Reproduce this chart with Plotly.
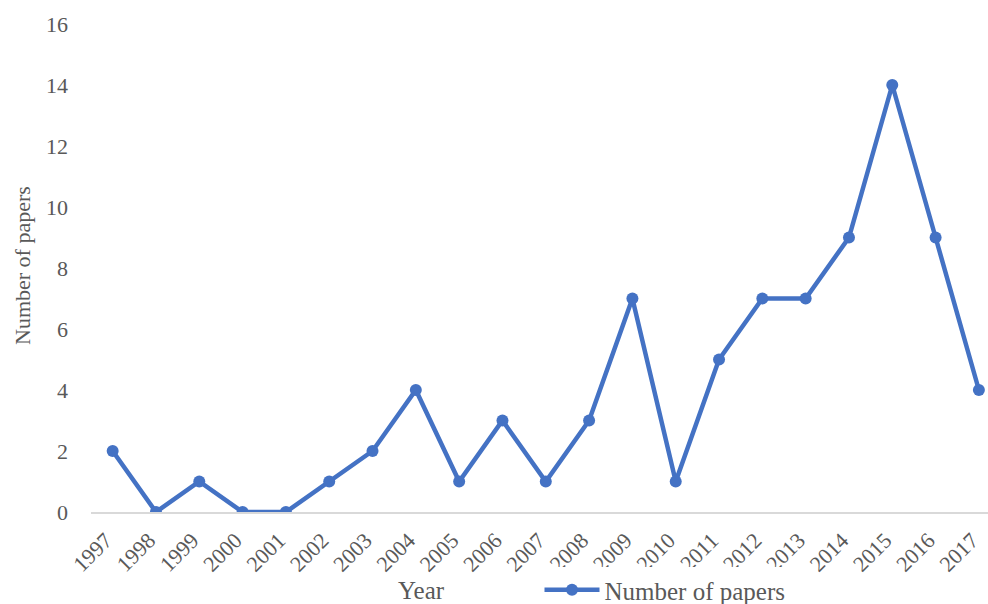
import plotly.graph_objects as go

years = [str(y) for y in range(1997, 2018)]
papers = [2, 0, 1, 0, 0, 1, 2, 4, 1, 3, 1, 3, 7, 1, 5, 7, 7, 9, 14, 9, 4]
y_ticks = [0, 2, 4, 6, 8, 10, 12, 14, 16]

BLUE = "#4472C4"
GREY_TEXT = "#595959"
FONT = "Liberation Serif"

fig = go.Figure()
fig.add_trace(go.Scatter(
    x=years, y=papers, mode="lines+markers", name="Number of papers",
    line=dict(color=BLUE, width=4.5),
    marker=dict(color=BLUE, size=12),
))

fig.update_layout(
    width=988, height=604,
    margin=dict(l=91, r=0, t=24, b=92, autoexpand=False),
    paper_bgcolor="white", plot_bgcolor="white",
    font=dict(family=FONT, size=20, color=GREY_TEXT),
    showlegend=True,
    legend=dict(orientation="h", x=0.5, xanchor="left",
                yref="container", y=0.023, yanchor="middle",
                font=dict(family=FONT, size=25, color=GREY_TEXT),
                itemwidth=55),
    xaxis=dict(type="category", range=[-0.5, 20.21], tickangle=-45,
               automargin=False, ticklabelstandoff=5, ticklabelshift=-7,
               showgrid=False, showline=True, linecolor="#D9D9D9", linewidth=1.5,
               ticks="", tickfont=dict(family=FONT, size=22, color=GREY_TEXT),
               zeroline=False),
    yaxis=dict(range=[0, 16], tickvals=y_ticks, showgrid=False, showline=False,
               automargin=False, zeroline=False, ticks="", ticklabelstandoff=22,
               tickfont=dict(family=FONT, size=22, color=GREY_TEXT)),
)

fig.add_annotation(text="Year", xref="paper", yref="paper", x=0.369, y=-0.16,
                   showarrow=False, xanchor="center", yanchor="middle",
                   font=dict(family=FONT, size=25, color=GREY_TEXT))
fig.add_annotation(text="Number of papers", xref="paper", yref="paper",
                   x=-0.077, y=0.506, textangle=-90, showarrow=False,
                   xanchor="center", yanchor="middle",
                   font=dict(family=FONT, size=22, color=GREY_TEXT))

fig.write_html("out.html")
